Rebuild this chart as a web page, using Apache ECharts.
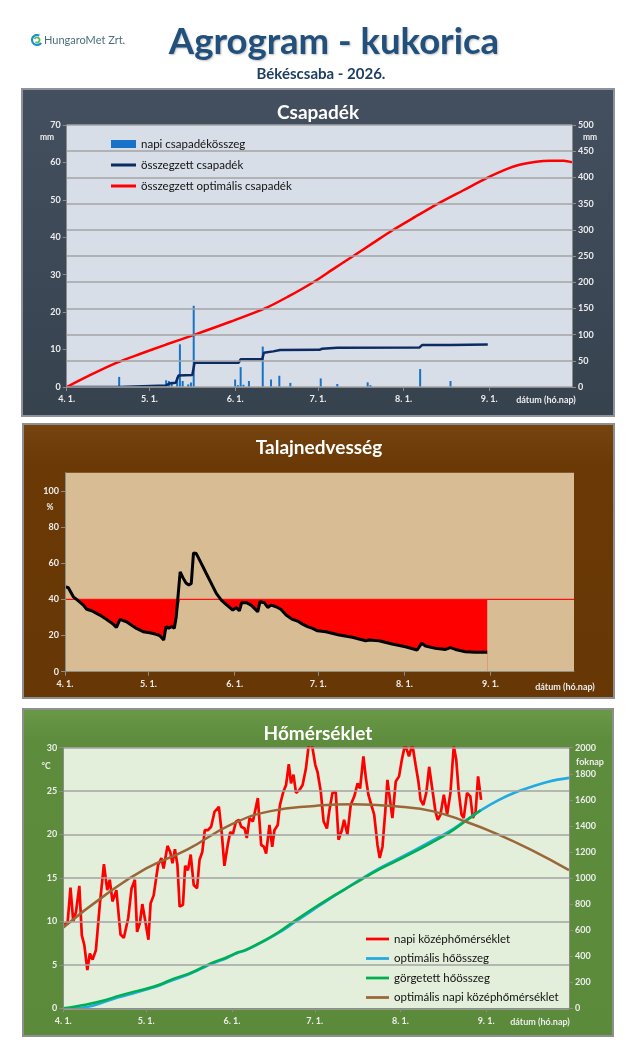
<!DOCTYPE html>
<html><head><meta charset="utf-8">
<script src="https://cdn.jsdelivr.net/npm/echarts@6/dist/echarts.min.js"></script>
<style>html,body{margin:0;padding:0;background:#fff;}#c{width:640px;height:1059px;}</style>
</head><body><div id="c"></div>
<script>
// ---------- DATA ----------
const monthTicks = [0, 30, 61, 91, 122, 153];           // day index of month starts (from 4. 1.)
const monthLabels = ['4. 1.', '5. 1.', '6. 1.', '7. 1.', '8. 1.', '9. 1.'];
const dayMax = 183;

const rainDaily = [[19,2.7],[36,1.8],[37,1.6],[38,1.4],[40,2.6],[41,11.4],[42,1.6],[44,0.7],[45,1.2],[46,21.7],
  [61,2.0],[62,0.5],[63,5.3],[64,0.6],[66,1.6],[71,10.8],[74,2.0],[77,3.0],[81,1.1],[92,2.3],[98,0.8],
  [109,1.25],[110,0.5],[128,4.8],[139,1.6]];

const cumRain = [[0,0],[19,0],[19.6,3],[36,3],[37.2,6.5],[39.5,8],[40.5,22],[45.5,23],[46.3,46.4],[62.3,46.4],
  [63,52.8],[70.8,52.8],[71.4,65.5],[74.8,68],[77.3,70.6],[91.5,71],[92.5,73],[98,75],[127.8,75.5],[128.7,80],
  [139,80.3],[139.7,81],[152.5,81]];

const optCumRain = [[0,0],[9,24],[18,46],[26.5,63],[36,81],[46.4,100],[59,124],[71.8,150],[80,172],[89.3,200],
  [96.5,225],[103.8,250],[111,275],[118.3,300],[126.3,325],[134.5,350],[143.5,375],[152.6,400],[158,413],
  [164,424],[170,430],[175,432],[180,432],[183,429]];

const soil = [[0,47],[1.2,46.4],[3,41.4],[4.8,39.2],[6.6,36.8],[7.8,34.5],[9.6,33.7],[12.5,31.3],[15,28.9],
  [17.3,26.3],[18.5,24.5],[19.2,24.5],[19.8,29],[20.9,28.2],[22.1,27.6],[25.7,23.9],[28.1,22.1],[30.5,21.5],
  [32.5,20.8],[34,20],[35.5,17.5],[36.3,24.9],[37.3,24],[38.3,25],[39.3,24],[40,30.4],[41.4,55.2],[42.4,52],
  [43.5,49],[44.5,47.9],[45.4,48.8],[46.2,65.7],[47.2,65.3],[49,59.9],[50.8,54.3],[52.6,48.8],[54.4,43.3],
  [56.2,39.6],[57.9,37.2],[60.3,34.1],[61.5,35.4],[62.7,33.7],[63.5,38.1],[65.1,38.3],[66.9,36.8],[68.1,35],
  [69.3,33.1],[70.1,38.7],[71.7,38.1],[72.9,35.5],[74.1,36.8],[75.9,35.9],[77.7,34.4],[79.5,31.3],[81.8,28.9],
  [83.6,28],[85.4,26.3],[87.2,24.9],[89,23.9],[90.8,22.6],[93.8,22.1],[98.6,20.3],[103.3,19],[108.1,17.1],
  [109.3,17.5],[112.9,17.1],[117.6,15.3],[122.4,13.8],[126.6,12],[127.2,11.6],[128.2,15.7],[129.6,14.2],
  [133.2,12.9],[136.8,12.3],[138.6,13.3],[140.4,12.3],[144,11],[147.6,10.7],[151.8,10.7]];
const soilThreshold = 40;

const tempDaily = [[0.4,9.6],[1.6,10],[2.6,13.9],[3.6,10],[4.6,11.1],[5.8,14.1],[6.7,8.4],[7.6,7.3],[8.7,4.4],
  [9.6,6.3],[10.6,5.6],[11.8,6.7],[13.2,11.9],[14.7,16.6],[15.9,13.6],[16.8,14.8],[17.8,12.3],[19.2,13.6],
  [20.7,8.5],[21.9,8.1],[23.5,10.4],[24.7,13.8],[25.9,14.8],[26.7,8.8],[27.7,9.8],[28.6,12],[29.7,10],[30.8,7.9],
  [31.6,12.1],[32.7,13],[34.3,16.5],[35.5,17.3],[36.3,16.1],[37.7,18.7],[38.7,18],[39.5,16.7],[40.4,18.3],
  [41.3,16.5],[42.1,11.7],[43.3,11.9],[44.1,16.4],[45.1,15.9],[46.1,17.7],[47.2,14.2],[48.4,13.8],[49.3,17.1],
  [50.3,18],[51.2,20.5],[52.3,20.5],[53.5,20.9],[54.7,22.6],[56.3,23.2],[57.3,20.3],[58.3,16.4],[59.5,18.8],
  [60.4,20.3],[61.3,20],[62.5,21.5],[63.5,21.7],[64.4,20.9],[65.6,20.7],[66.4,19.6],[67.4,21.9],[68.6,21.5],
  [70.4,24.2],[71.6,18.8],[72.6,18.6],[73.4,17.8],[74.6,21.1],[75.6,18.6],[76.4,20.5],[77.6,21.1],[78.4,23.4],
  [79.6,24.9],[80.6,25.7],[81.6,28.1],[82.4,25.9],[83.3,26.9],[84.2,24.8],[85.4,25.1],[86.6,25.7],[87.8,27.6],
  [88.8,30.3],[90,30.3],[91.2,28],[92,27.2],[93.2,24.9],[94.2,21.5],[95.4,20.7],[96.2,22.6],[97.4,24.8],
  [98.6,24.9],[99.6,19.4],[100.8,20.5],[101.6,21.7],[102.8,20],[104,23.4],[105.3,24.4],[106.5,25.9],
  [107.4,25.3],[108.6,29],[109.5,26.5],[110.4,24.6],[111.3,23.6],[112.5,22.3],[113.7,18.8],[114.5,17.3],
  [115.5,18.6],[116.5,22.6],[117.3,26.3],[118.3,23.8],[119.1,21.9],[120.3,26.1],[121.5,26.7],[122.5,28.6],
  [123.7,30.4],[125.1,29],[126.3,30.4],[127.5,28],[128.5,26.1],[129.3,24],[130.3,23.4],[131.4,24.9],
  [132.4,27.8],[133.5,25.3],[134.7,22.6],[135.5,21.7],[136.5,22.3],[137.7,24.6],[138.9,22.3],[140.1,24.8],
  [141.3,30.2],[142.2,28.6],[143.1,24.9],[144.1,22.3],[144.9,21.9],[146.1,24.8],[147.3,24.4],[148.2,21.9],
  [149.2,22.6],[150.1,26.7],[151.2,24]];

const optTemp = [[0,9.3],[15,13.0],[30,16.1],[45,18.3],[61,21.2],[75,22.7],[91,23.3],[105,23.5],[122,23.2],
  [133.5,22.7],[145.5,21.5],[157.5,20.0],[169.5,18.2],[183,15.9]];

const optHeatSum = [[0,0],[8,8],[15,50],[20,85],[26,120],[30,145],[35,178],[40,220],[45,258],[49,295],[54,345],
  [59,385],[63,425],[66,445],[72,508],[78,580],[84,665],[90,750],[96,835],[102,915],[108,995],[114,1070],
  [120,1135],[127,1212],[133,1280],[139.5,1355],[145.5,1440],[151.5,1525],[157.5,1598],[163.5,1656],
  [169.5,1700],[175.5,1739],[183,1768]];

const rollHeatSum = [[0,0],[8,28],[15,62],[20,95],[26,130],[30,150],[35,183],[40,228],[45,262],[49,300],[54,350],
  [59,390],[63,428],[66,448],[72,512],[78,586],[84,675],[90,760],[96,840],[102,915],[108,990],[114,1062],
  [120,1125],[127,1200],[133,1268],[139.5,1345],[145.5,1435],[151,1520]];

const soilTicks = [0,20,40,60,80,100];

// ---------- CHART ----------
const FONT = 'Lato, "Open Sans", sans-serif';
const chart = echarts.init(document.getElementById('c'), null, {width:640, height:1059});
const labelColor = '#EDEDED';
const soilBg = '#D8BC93';
const LINE_ICON = 'path://M0,0H25V3H0Z';

function xAxisCfg(gi) {
  return {
    type:'value', gridIndex:gi, min:0, max:dayMax, z:6,
    axisLine:{show:true, lineStyle:{color:'#8C8C8C', width:1}},
    axisTick:{show:true, customValues:monthTicks, length:4, lineStyle:{color:'#8C8C8C'}},
    axisLabel:{customValues:monthTicks, formatter:v => { const i = monthTicks.indexOf(v); return i >= 0 ? monthLabels[i] : ''; },
      color:labelColor, fontWeight:'bold', fontSize:9, fontFamily:FONT, margin:8},
    splitLine:{show:false}
  };
}
function yAxisCfg(gi, pos, min, max, interval, split, extra) {
  return Object.assign({
    type:'value', gridIndex:gi, position:pos, min, max, interval, z:6,
    axisLine:{show:true, lineStyle:{color:'#8C8C8C', width:1}},
    axisTick:{show:true, length:4, lineStyle:{color:'#8C8C8C'}},
    axisLabel:{color:labelColor, fontWeight:'bold', fontSize:9, fontFamily:FONT, margin:6, formatter:v => String(v)},
    splitLine:{show:split, lineStyle:{color:'#A3A3A3', width:1.5}}
  }, extra || {});
}

const soilClamped = soil.map(p => [p[0], Math.min(p[1], soilThreshold)]);
const soilLevel = soil.map(p => [p[0], soilThreshold]);
const thresholdLine = [[0, soilThreshold], [dayMax, soilThreshold]];

function txt(x, y, text, size, color, weight, align, extra) {
  return {type:'text', x, y, z:20, silent:true,
    style:Object.assign({text, fill:color, fontSize:size, fontWeight:weight||'bold', fontFamily:FONT, align:align||'center', verticalAlign:'middle'}, extra||{})};
}

const option = {
  animation:false,
  backgroundColor:'#ffffff',
  grid:[
    {left:66.7, top:125, width:505.3, height:262, show:true, backgroundColor:'#D8DEE7', borderWidth:0},
    {left:65, top:472.7, width:509, height:199, show:true, backgroundColor:soilBg, borderWidth:0},
    {left:63.3, top:747.7, width:505.7, height:260.6, show:true, backgroundColor:'#E3EFDB', borderWidth:0}
  ],
  xAxis:[xAxisCfg(0), xAxisCfg(1), xAxisCfg(2)],
  yAxis:[
    yAxisCfg(0,'left',0,70,10,false),
    yAxisCfg(0,'right',0,500,50,true),
    yAxisCfg(1,'left',0,110,10,false,{
      axisTick:{show:true, length:4, customValues:soilTicks, lineStyle:{color:'#8C8C8C'}},
      axisLabel:{customValues:soilTicks, color:labelColor, fontWeight:'bold', fontSize:9, fontFamily:FONT, margin:6}}),
    yAxisCfg(2,'left',0,30,5,true),
    yAxisCfg(2,'right',0,2000,200,false)
  ],
  legend:[
    {left:106, top:133, orient:'vertical', itemWidth:25, itemHeight:8, itemGap:9, selectedMode:false,
      textStyle:{fontSize:11.5, color:'#111', fontFamily:FONT},
      data:[{name:'napi csapadékösszeg', icon:'rect'},{name:'összegzett csapadék', icon:LINE_ICON},{name:'összegzett optimális csapadék', icon:LINE_ICON}]},
    {left:361, top:928, orient:'vertical', itemWidth:23, itemHeight:8, itemGap:7.5, selectedMode:false,
      textStyle:{fontSize:11.5, color:'#111', fontFamily:FONT},
      data:['napi középhőmérséklet','optimális hőösszeg','görgetett hőösszeg','optimális napi középhőmérséklet'].map(n => ({name:n, icon:LINE_ICON}))}
  ],
  series:[
    {name:'napi csapadékösszeg', type:'bar', xAxisIndex:0, yAxisIndex:0, data:rainDaily, barWidth:2,
      itemStyle:{color:'#1873C8'}},
    {name:'összegzett csapadék', type:'line', xAxisIndex:0, yAxisIndex:1, data:cumRain, symbol:'none',
      lineStyle:{color:'#0D2B62', width:2.5}, itemStyle:{color:'#0D2B62'}},
    {name:'összegzett optimális csapadék', type:'line', xAxisIndex:0, yAxisIndex:1, data:optCumRain, symbol:'none', smooth:0.3,
      lineStyle:{color:'#FF0000', width:2.5}, itemStyle:{color:'#FF0000'}},

    {name:'deficitFill', type:'line', xAxisIndex:1, yAxisIndex:2, data:soilLevel, symbol:'none', z:1, silent:true,
      lineStyle:{width:0, opacity:0}, areaStyle:{color:'#FF0000', opacity:1, origin:'start'}},
    {name:'soilMask', type:'line', xAxisIndex:1, yAxisIndex:2, data:soilClamped, symbol:'none', z:1, silent:true,
      lineStyle:{width:0, opacity:0}, areaStyle:{color:soilBg, opacity:1, origin:'start'}},
    {name:'küszöb', type:'line', xAxisIndex:1, yAxisIndex:2, data:thresholdLine, symbol:'none', z:2, silent:true,
      lineStyle:{color:'#FF1010', width:1.3}, itemStyle:{color:'#FF1010'}},
    {name:'talajnedvesség', type:'line', xAxisIndex:1, yAxisIndex:2, data:soil, symbol:'none', z:3,
      lineStyle:{color:'#000000', width:3}, itemStyle:{color:'#000'}},

    {name:'napi középhőmérséklet', type:'line', xAxisIndex:2, yAxisIndex:3, data:tempDaily, symbol:'none',
      lineStyle:{color:'#FF0000', width:2.7}, itemStyle:{color:'#FF0000'}},
    {name:'optimális hőösszeg', type:'line', xAxisIndex:2, yAxisIndex:4, data:optHeatSum, symbol:'none', smooth:0.4,
      lineStyle:{color:'#22AAE3', width:2.7}, itemStyle:{color:'#22AAE3'}},
    {name:'görgetett hőösszeg', type:'line', xAxisIndex:2, yAxisIndex:4, data:rollHeatSum, symbol:'none', smooth:0.4,
      lineStyle:{color:'#00B050', width:2.5}, itemStyle:{color:'#00B050'}},
    {name:'optimális napi középhőmérséklet', type:'line', xAxisIndex:2, yAxisIndex:3, data:optTemp, symbol:'none', smooth:0.5,
      lineStyle:{color:'#9A6838', width:2.5}, itemStyle:{color:'#9A6838'}}
  ],
  graphic:[
    {type:'rect', z:-10, silent:true, shape:{x:22,y:89,width:592,height:327},
      style:{fill:new echarts.graphic.LinearGradient(0,0,0,1,[{offset:0,color:'#44505F'},{offset:1,color:'#37424F'}]), stroke:'#8F9399', lineWidth:2}},
    {type:'rect', z:-10, silent:true, shape:{x:23,y:424,width:591,height:274},
      style:{fill:new echarts.graphic.LinearGradient(0,0,0,1,[{offset:0,color:'#76440F'},{offset:0.15,color:'#6A3906'},{offset:1,color:'#673705'}]), stroke:'#8F8F8F', lineWidth:2}},
    {type:'rect', z:-10, silent:true, shape:{x:23,y:709,width:590,height:327},
      style:{fill:new echarts.graphic.LinearGradient(0,0,0,1,[{offset:0,color:'#6A9A48'},{offset:0.1,color:'#5C8C3C'},{offset:1,color:'#5A8A3A'}]), stroke:'#8F8F8F', lineWidth:2}},
    {type:'arc', z:20, silent:true, shape:{cx:37, cy:40, r:5, startAngle:0.6, endAngle:5.2}, style:{stroke:'#1E8FCB', lineWidth:2.2, fill:null}},
    {type:'arc', z:20, silent:true, shape:{cx:37, cy:40, r:2.5, startAngle:3.5, endAngle:8.5}, style:{stroke:'#5DBB63', lineWidth:1.8, fill:null}},
    txt(44, 40, 'HungaroMet Zrt.', 11, '#4A6E80', 'normal', 'left'),
    txt(334, 42, 'Agrogram - kukorica', 36.5, '#22507D', 'bold', 'center',
      {textShadowColor:'rgba(0,0,0,0.25)', textShadowBlur:2, textShadowOffsetX:1, textShadowOffsetY:1}),
    txt(321, 74, 'Békéscsaba - 2026.', 15, '#1F3F62'),
    txt(318, 113, 'Csapadék', 19, '#FFFFFF'),
    txt(319, 448, 'Talajnedvesség', 19, '#FFFFFF'),
    txt(318, 734, 'Hőmérséklet', 19, '#FFFFFF'),
    txt(47, 137, 'mm', 8.5, labelColor),
    txt(590, 137, 'mm', 8.5, labelColor),
    txt(50, 507, '%', 8.5, labelColor),
    txt(46, 766, '°C', 8.5, labelColor),
    txt(590, 762, 'foknap', 9, labelColor),
    txt(546, 400, 'dátum (hó.nap)', 9, labelColor),
    txt(565, 687, 'dátum (hó.nap)', 9, labelColor),
    txt(540, 1022, 'dátum (hó.nap)', 9, labelColor)
  ]
};
chart.setOption(option);
</script></body></html>
